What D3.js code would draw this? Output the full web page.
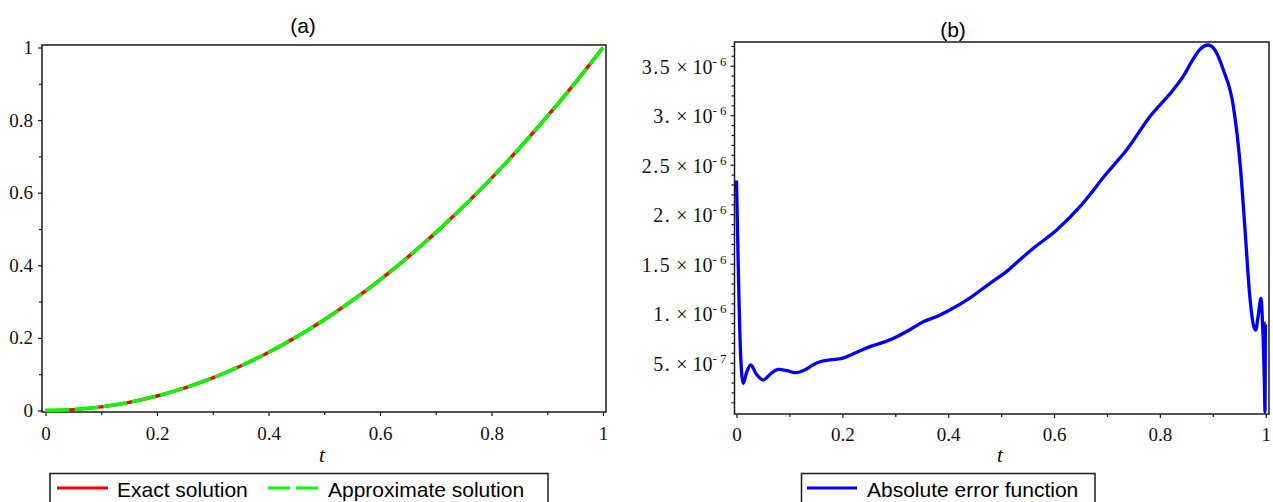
<!DOCTYPE html>
<html>
<head>
<meta charset="utf-8">
<script src="https://cdn.jsdelivr.net/npm/d3@7"></script>
<style>
  html, body { margin: 0; padding: 0; background: #fff; }
  svg { display: block; }
</style>
</head>
<body>
<svg id="chart" width="1273" height="502"></svg>
<script>
// ---------- DATA ----------
// Panel (a): exact and approximate solution
const tA = [0, 0.05, 0.1, 0.15, 0.2, 0.25, 0.3, 0.35, 0.4, 0.45, 0.5, 0.55, 0.6, 0.65, 0.7, 0.75, 0.8, 0.85, 0.9, 0.95, 1];
const exactVals = [0, 0.0025, 0.01, 0.0225, 0.04, 0.0625, 0.09, 0.1225, 0.16, 0.2025, 0.25, 0.3025, 0.36, 0.4225, 0.49, 0.5625, 0.64, 0.7225, 0.81, 0.9025, 1];
const approxVals = [0, 0.0025, 0.01, 0.0225, 0.04, 0.0625, 0.09, 0.1225, 0.16, 0.2025, 0.25, 0.3025, 0.36, 0.4225, 0.49, 0.5625, 0.64, 0.7225, 0.81, 0.9025, 1];
const xTicksA = [0, 0.2, 0.4, 0.6, 0.8, 1];
const xTickLabelsA = ["0", "0.2", "0.4", "0.6", "0.8", "1"];
const yTicksA = [0, 0.2, 0.4, 0.6, 0.8, 1];
const yTickLabelsA = ["0", "0.2", "0.4", "0.6", "0.8", "1"];

// Panel (b): absolute error (values in units of 1e-6)
const tB = [0, 0.004, 0.008, 0.0128, 0.019, 0.0268, 0.038, 0.0506, 0.065, 0.079, 0.095, 0.1105, 0.13, 0.145, 0.158, 0.18, 0.199, 0.225, 0.252, 0.28, 0.303, 0.33, 0.353, 0.38, 0.403, 0.44, 0.479, 0.51, 0.542, 0.561, 0.605, 0.649, 0.6995, 0.737, 0.781, 0.825, 0.845, 0.86, 0.875, 0.8915, 0.905, 0.92, 0.939, 0.9515, 0.961, 0.97, 0.976, 0.981, 0.986, 0.991, 0.994, 0.9975, 0.9987, 0.9995, 1];
const errVals = [2.34, 1.30, 0.55, 0.292, 0.40, 0.477, 0.38, 0.325, 0.39, 0.433, 0.42, 0.399, 0.43, 0.48, 0.51, 0.53, 0.544, 0.60, 0.662, 0.71, 0.763, 0.84, 0.914, 0.97, 1.032, 1.15, 1.302, 1.42, 1.571, 1.656, 1.84, 2.076, 2.413, 2.648, 2.985, 3.255, 3.40, 3.54, 3.66, 3.709, 3.65, 3.457, 3.086, 2.517, 1.84, 1.167, 0.90, 0.83, 0.98, 1.15, 0.90, 0.30, 0.005, 0.9, 0.9];
const xTicksB = [0, 0.2, 0.4, 0.6, 0.8, 1];
const xTickLabelsB = ["0", "0.2", "0.4", "0.6", "0.8", "1"];
const yTicksB = [0.5, 1, 1.5, 2, 2.5, 3, 3.5];
const yTickMantissaB = ["5.", "1.", "1.5", "2.", "2.5", "3.", "3.5"];
const yTickExpB = ["-7", "-6", "-6", "-6", "-6", "-6", "-6"];

const legendA = ["Exact solution", "Approximate solution"];
const legendB = ["Absolute error function"];
const titles = ["(a)", "(b)"];

// ---------- DRAWING ----------
const svg = d3.select("#chart");
const AX = "#1a1a1a";
const SERIF = "Liberation Serif";
const SANS = "Liberation Sans";

function frame(g, x0, y0, x1, y1) {
  g.append("rect").attr("x", x0).attr("y", y0).attr("width", x1 - x0).attr("height", y1 - y0)
    .attr("fill", "none").attr("stroke", AX).attr("stroke-width", 1.5);
}

function styleAxis(sel) {
  sel.attr("font-family", null).attr("font-size", null);
  sel.select(".domain").remove();
  sel.selectAll(".tick line").attr("stroke", AX).attr("stroke-width", 1.2);
  sel.selectAll("text").style("font-family", SERIF).style("font-size", "19px").attr("fill", "#111");
}

// ----- Panel (a) -----
{
  const g = svg.append("g");
  const fx0 = 42, fy0 = 45, fx1 = 606, fy1 = 412;
  const x = d3.scaleLinear().domain([0, 1]).range([45.5, 603]);
  const y = d3.scaleLinear().domain([0, 1]).range([410.5, 47.5]);
  frame(g, fx0, fy0, fx1, fy1);

  const xb = g.append("g").attr("transform", `translate(0,${fy1})`)
    .call(d3.axisBottom(x).tickValues(d3.range(0.1, 1, 0.2)).tickSize(3).tickFormat(""));
  styleAxis(xb);
  const yl = g.append("g").attr("transform", `translate(${fx0},0)`)
    .call(d3.axisLeft(y).tickValues(d3.range(0.1, 1, 0.2)).tickSize(3).tickFormat(""));
  styleAxis(yl);
  const xa = g.append("g").attr("transform", `translate(0,${fy1})`)
    .call(d3.axisBottom(x).tickValues(xTicksA).tickSize(4).tickPadding(11)
      .tickFormat((d, i) => xTickLabelsA[i]));
  styleAxis(xa);
  const ya = g.append("g").attr("transform", `translate(${fx0},0)`)
    .call(d3.axisLeft(y).tickValues(yTicksA).tickSize(4).tickPadding(5)
      .tickFormat((d, i) => yTickLabelsA[i]));
  styleAxis(ya);

  const line = d3.line().x(d => x(d[0])).y(d => y(d[1])).curve(d3.curveMonotoneX);
  g.append("path").datum(tA.map((t, i) => [t, exactVals[i]]))
    .attr("d", line).attr("fill", "none").attr("stroke", "#ff0000").attr("stroke-width", 3.4);
  g.append("path").datum(tA.map((t, i) => [t, approxVals[i]]))
    .attr("d", line).attr("fill", "none").attr("stroke", "#00ff00").attr("stroke-width", 3.4)
    .attr("stroke-dasharray", "24,5");

  g.append("text").attr("x", 303).attr("y", 33).attr("text-anchor", "middle")
    .style("font-family", SANS).style("font-size", "21px").text(titles[0]);
  g.append("text").attr("x", 322).attr("y", 462).attr("text-anchor", "middle")
    .style("font-family", SERIF).style("font-style", "italic").style("font-size", "21px").text("t");

  const lg = g.append("g");
  lg.append("rect").attr("x", 50).attr("y", 473.5).attr("width", 498).attr("height", 40)
    .attr("fill", "#fff").attr("stroke", AX).attr("stroke-width", 1.5);
  lg.append("line").attr("x1", 57).attr("x2", 108).attr("y1", 488).attr("y2", 488)
    .attr("stroke", "#ff0000").attr("stroke-width", 3);
  lg.append("text").attr("x", 117).attr("y", 496.5).style("font-family", SANS).style("font-size", "21px").text(legendA[0]);
  lg.append("line").attr("x1", 268).attr("x2", 319).attr("y1", 488).attr("y2", 488)
    .attr("stroke", "#00ff00").attr("stroke-width", 3).attr("stroke-dasharray", "22,6");
  lg.append("text").attr("x", 328).attr("y", 496.5).style("font-family", SANS).style("font-size", "21px").text(legendA[1]);
}

// ----- Panel (b) -----
{
  const g = svg.append("g");
  const fx0 = 734.5, fy0 = 42, fx1 = 1269, fy1 = 414;
  const x = d3.scaleLinear().domain([0, 1]).range([736.5, 1265.7]);
  const y = d3.scaleLinear().domain([0, 3.5]).range([412.2, 65.7]);
  frame(g, fx0, fy0, fx1, fy1);

  const minorY = d3.range(1, 38).map(k => k / 10).filter(v => Math.abs(v * 2 - Math.round(v * 2)) > 1e-6);
  const yl = g.append("g").attr("transform", `translate(${fx0},0)`)
    .call(d3.axisLeft(y).tickValues(minorY).tickSize(3).tickFormat(""));
  styleAxis(yl);
  const xb = g.append("g").attr("transform", `translate(0,${fy1})`)
    .call(d3.axisBottom(x).tickValues(d3.range(0.1, 1, 0.2)).tickSize(3).tickFormat(""));
  styleAxis(xb);
  const xa = g.append("g").attr("transform", `translate(0,${fy1})`)
    .call(d3.axisBottom(x).tickValues(xTicksB).tickSize(4).tickPadding(10)
      .tickFormat((d, i) => xTickLabelsB[i]));
  styleAxis(xa);
  const ya = g.append("g").attr("transform", `translate(${fx0},0)`)
    .call(d3.axisLeft(y).tickValues(yTicksB).tickSize(4).tickPadding(8).tickFormat(""));
  styleAxis(ya);
  ya.selectAll(".tick").each(function(d, i) {
    const t = d3.select(this).append("text")
      .attr("x", -8).attr("y", 7.5).attr("text-anchor", "end")
      .style("font-family", SERIF).style("font-size", "20px").attr("fill", "#111");
    t.append("tspan").style("letter-spacing", "1.5px").text(yTickMantissaB[i]);
    t.append("tspan").text(" \u00d7 10");
    t.append("tspan").attr("dy", -8).style("font-size", "13px").text(yTickExpB[i].replace("-", "- "));
  });

  const line = d3.line().x(d => x(d[0])).y(d => y(d[1])).curve(d3.curveMonotoneX);
  g.append("path").datum(tB.map((t, i) => [t, errVals[i]]))
    .attr("d", line).attr("fill", "none").attr("stroke", "#0000ff").attr("stroke-width", 3.3)
    .attr("stroke-linejoin", "round");

  g.append("text").attr("x", 953).attr("y", 37).attr("text-anchor", "middle")
    .style("font-family", SANS).style("font-size", "21px").text(titles[1]);
  g.append("text").attr("x", 1000).attr("y", 462).attr("text-anchor", "middle")
    .style("font-family", SERIF).style("font-style", "italic").style("font-size", "21px").text("t");

  const lg = g.append("g");
  lg.append("rect").attr("x", 801.5).attr("y", 473.5).attr("width", 293.5).attr("height", 40)
    .attr("fill", "#fff").attr("stroke", AX).attr("stroke-width", 1.5);
  lg.append("line").attr("x1", 807).attr("x2", 857).attr("y1", 488).attr("y2", 488)
    .attr("stroke", "#0000ff").attr("stroke-width", 3);
  lg.append("text").attr("x", 867).attr("y", 496.5).style("font-family", SANS).style("font-size", "21px").text(legendB[0]);
}
</script>
</body>
</html>
